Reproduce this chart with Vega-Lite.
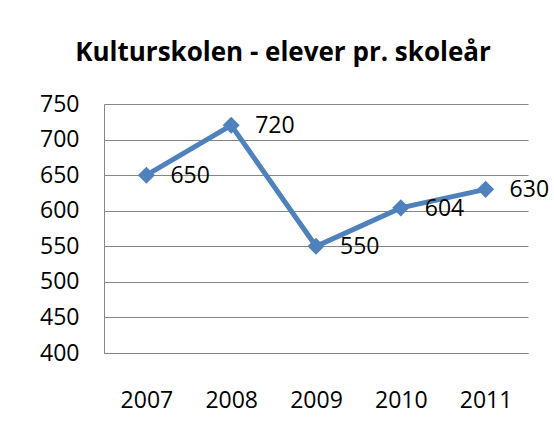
{
  "$schema": "https://vega.github.io/schema/vega-lite/v6.json",
  "width": 424,
  "height": 249,
  "autosize": "none",
  "padding": {"left": 104, "top": 104, "right": 26, "bottom": 80},
  "background": "white",
  "title": {
    "text": "Kulturskolen - elever pr. skoleår",
    "font": "Open Sans",
    "fontSize": 26,
    "fontWeight": "bold",
    "color": "black",
    "anchor": "middle",
    "frame": "group",
    "baseline": "alphabetic",
    "offset": 6,
    "dx": -33
  },
  "config": {"view": {"stroke": null}},
  "data": {
    "values": [
      {"year": "2007", "elever": 650},
      {"year": "2008", "elever": 720},
      {"year": "2009", "elever": 550},
      {"year": "2010", "elever": 604},
      {"year": "2011", "elever": 630}
    ]
  },
  "encoding": {
    "x": {
      "field": "year",
      "type": "ordinal",
      "scale": {"type": "point", "padding": 0.5},
      "axis": {
        "title": null,
        "labelAngle": 0,
        "labelFont": "Open Sans",
        "labelFontSize": 23,
        "labelColor": "black",
        "labelPadding": 36,
        "ticks": false,
        "grid": false,
        "domainColor": "#868686",
        "domainWidth": 1
      }
    },
    "y": {
      "field": "elever",
      "type": "quantitative",
      "scale": {"domain": [400, 750], "nice": false, "zero": false},
      "axis": {
        "title": null,
        "values": [400, 450, 500, 550, 600, 650, 700, 750],
        "labelFont": "Open Sans",
        "labelFontSize": 23,
        "labelColor": "black",
        "labelPadding": 25,
        "ticks": false,
        "grid": true,
        "gridColor": "#868686",
        "gridWidth": 1,
        "domainColor": "#868686",
        "domainWidth": 1
      }
    }
  },
  "layer": [
    {
      "mark": {
        "type": "line",
        "color": "#4F81BD",
        "strokeWidth": 5,
        "point": {"shape": "diamond", "size": 290, "color": "#4F81BD", "filled": true, "opacity": 1}
      }
    },
    {
      "mark": {
        "type": "text",
        "align": "left",
        "baseline": "middle",
        "dx": 24,
        "dy": 1,
        "font": "Open Sans",
        "fontSize": 23,
        "color": "black"
      },
      "encoding": {"text": {"field": "elever", "type": "quantitative"}}
    }
  ]
}
